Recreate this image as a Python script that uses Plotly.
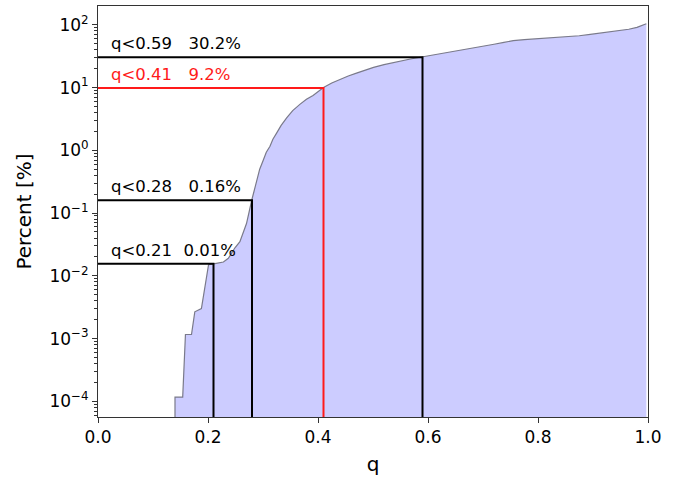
import numpy as np
import plotly.graph_objects as go

# cumulative curve (q, percent)
q_curve = [0.140, 0.140, 0.154, 0.159, 0.170, 0.176, 0.188, 0.201, 0.215, 0.228,
           0.237, 0.249, 0.258, 0.265, 0.270, 0.2795, 0.2885, 0.294, 0.3006, 0.306,
           0.3127, 0.318, 0.325, 0.333, 0.343, 0.354, 0.367, 0.379, 0.391, 0.410,
           0.425, 0.440, 0.455, 0.470, 0.485, 0.501, 0.520, 0.545, 0.568, 0.591,
           0.614, 0.636, 0.660, 0.682, 0.700, 0.720, 0.738, 0.755, 0.775, 0.795,
           0.815, 0.834, 0.855, 0.875, 0.895, 0.913, 0.930, 0.950, 0.965, 0.980, 0.997]
pct_curve = [1e-6, 1.17e-4, 1.17e-4, 1.16e-3, 1.16e-3, 2.67e-3, 3.0e-3, 0.015, 0.0158, 0.0166,
             0.019, 0.028, 0.035, 0.050, 0.068, 0.16, 0.333, 0.50, 0.70, 0.93,
             1.16, 1.50, 1.9, 2.5, 3.3, 4.3, 5.4, 6.5, 7.5, 10.0,
             11.8, 13.6, 15.3, 17.0, 19.0, 21.0, 23.2, 26.0, 28.5, 31.0,
             33.5, 36.0, 39.2, 42.4, 45.5, 49.0, 52.5, 56.0, 58.0, 59.5,
             61.0, 62.6, 64.8, 67.0, 70.2, 73.6, 77.0, 81.0, 85.0, 91.0, 104.0]

# thresholds
q_thr = [0.21, 0.28, 0.41, 0.59]
pct_line = [0.0156, 0.16, 9.8, 30.5]
q_labels = ["q<0.21", "q<0.28", "q<0.41", "q<0.59"]
pct_labels = ["0.01%", "0.16%", "9.2%", "30.2%"]
thr_colors = ["black", "black", "#ff1a1a", "black"]
gap_text = ["\u2002\u2009", "\u2002\u2002", "\u2002\u2002", "\u2002\u2002"]

y_ticks = [1e-4, 1e-3, 1e-2, 1e-1, 1, 10, 100]
y_ticktext = ["10<sup>−4</sup>", "10<sup>−3</sup>", "10<sup>−2</sup>", "10<sup>−1</sup>",
              "10<sup>0</sup>", "10<sup>1</sup>", "10<sup>2</sup>"]
x_ticks = [0.0, 0.2, 0.4, 0.6, 0.8, 1.0]
x_ticktext = ["0.0", "0.2", "0.4", "0.6", "0.8", "1.0"]

FLOOR = 1e-6
FONT = "DejaVu Sans"

fig = go.Figure()
fig.add_trace(go.Scatter(
    x=q_curve + [q_curve[-1]], y=pct_curve + [FLOOR],
    fill="toself", fillcolor="rgb(204,204,255)", mode="lines",
    line=dict(width=0), hoverinfo="skip"))
fig.add_trace(go.Scatter(
    x=q_curve, y=pct_curve, mode="lines",
    line=dict(color="#7a7a8a", width=1.2), hoverinfo="skip"))

for q, p, col in zip(q_thr, pct_line, thr_colors):
    fig.add_trace(go.Scatter(
        x=[0, q, q], y=[p, p, FLOOR], mode="lines",
        line=dict(color=col, width=2), hoverinfo="skip"))

for q, p, ql, pl, col, g in zip(q_thr, pct_line, q_labels, pct_labels, thr_colors, gap_text):
    fig.add_annotation(
        x=0.02, y=np.log10(p), xref="x", yref="y",
        text=ql + g + pl, showarrow=False,
        xanchor="left", yanchor="bottom", yshift=2,
        font=dict(family=FONT, size=16.5, color=col))

minor_vals = [m * 10.0 ** k for k in range(-5, 3) for m in range(2, 10)]

fig.update_layout(
    width=694, height=477,
    margin=dict(l=98, r=46, t=6, b=60),
    paper_bgcolor="white", plot_bgcolor="white",
    showlegend=False,
    font=dict(family=FONT, size=17, color="black"),
)
fig.update_xaxes(
    range=[0, 1], tickvals=x_ticks, ticktext=x_ticktext, automargin=False,
    ticks="outside", ticklen=5, tickwidth=1, tickcolor="#333",
    showline=True, linecolor="#333", linewidth=1, mirror=True,
    showgrid=False, zeroline=False,
    title=dict(text="q", font=dict(size=20), standoff=10),
)
fig.update_yaxes(
    type="log", range=[-4.25, 2.30], automargin=False,
    tickvals=y_ticks, ticktext=y_ticktext,
    ticks="outside", ticklen=5, tickwidth=1, tickcolor="#333",
    minor=dict(tickvals=minor_vals, ticks="outside", ticklen=3, tickcolor="#333"),
    showline=True, linecolor="#333", linewidth=1, mirror=True,
    showgrid=False, zeroline=False,
    title=dict(text="Percent [%]", font=dict(size=20), standoff=12),
)

fig.write_html("out.html", config={"displayModeBar": False},
               post_script="document.body.style.margin='0';")
